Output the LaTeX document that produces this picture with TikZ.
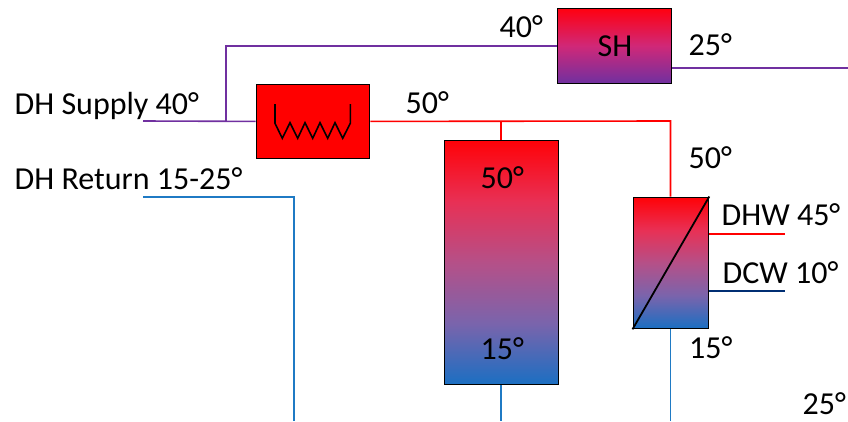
\documentclass[tikz,border=0pt]{standalone}
\usepackage{fontspec}
\setmainfont{Carlito}
\definecolor{pipepurple}{HTML}{7030A0}
\definecolor{pipered}{HTML}{FF0000}
\definecolor{pipeblue}{HTML}{1F7AC4}
\definecolor{pipenavy}{HTML}{002E73}
\definecolor{hcA}{HTML}{1B6FC2}
\definecolor{hcB}{HTML}{7A64AC}
\definecolor{hcC}{HTML}{B55088}
\definecolor{hcD}{HTML}{E83055}
\definecolor{hcE}{HTML}{FF0208}
\definecolor{shA}{HTML}{7030A0}
\definecolor{shB}{HTML}{D02878}
\definecolor{shC}{HTML}{FF0010}
\pgfdeclareverticalshading{hotcoldshade}{100bp}{
 color(0bp)=(hcA); color(25bp)=(hcA); color(37.5bp)=(hcB); color(50bp)=(hcC);
 color(62.5bp)=(hcD); color(75bp)=(hcE); color(100bp)=(hcE)}
\pgfdeclareverticalshading{heatingshade}{100bp}{
 color(0bp)=(shA); color(25bp)=(shA); color(50bp)=(shB); color(75bp)=(shC); color(100bp)=(shC)}
\tikzset{
 unit/.style={draw=black,line width=1.8pt,inner sep=0pt,anchor=north west},
 hotcold/.style={unit,shading=hotcoldshade},
 heating/.style={unit,shading=heatingshade},
 lbl/.style={anchor=base west,inner sep=0pt,font=\fontsize{32}{33}\selectfont},
 ctr/.style={anchor=base,inner sep=0pt,font=\fontsize{32}{33}\selectfont},
 pipe/.style={line width=1.6pt},
}
\begin{document}
\begin{tikzpicture}[x=1pt,y=-1pt]
\useasboundingbox (0,0) rectangle (848,421);
% pipe end points
\coordinate (supplyin) at (143,121);
\coordinate (branch) at (226,121);
\coordinate (branchtop) at (226,46);
\coordinate (shout) at (848,68);
\coordinate (retin) at (143,197);
\coordinate (retcorner) at (294,197);
\coordinate (retout) at (294,421);
\coordinate (redcorner) at (670.5,121);
\coordinate (tanktee) at (501,121);
\coordinate (tankout) at (501,421);
\coordinate (dhxout) at (670.5,421);
\coordinate (dhwend) at (785,234);
\coordinate (dcwend) at (785,291);
% units
\node[heating,minimum width=114pt,minimum height=75pt] (sh) at (556.5,7.5) {};
\node[unit,fill=pipered,minimum width=113pt,minimum height=74pt] (hx) at (255.5,83.5) {};
\node[hotcold,minimum width=114pt,minimum height=244pt] (tank) at (443.5,139.5) {};
\node[hotcold,minimum width=75pt,minimum height=131pt] (dhx) at (632.5,196.5) {};
% pipes
\draw[pipe,pipepurple] (supplyin) -- (hx.west);
\draw[pipe,pipepurple] (branch) -- (branchtop) -- (sh.west |- branchtop);
\draw[pipe,pipepurple] (sh.east |- shout) -- (shout);
\draw[pipe,pipered] (hx.east) -- (redcorner) -- (dhx.north -| redcorner);
\draw[pipe,pipered] (tanktee) -- (tank.north -| tanktee);
\draw[pipe,pipered] (dhx.east |- dhwend) -- (dhwend);
\draw[pipe,pipenavy] (dhx.east |- dcwend) -- (dcwend);
\draw[pipe,pipeblue] (retin) -- (retcorner) -- (retout);
\draw[pipe,pipeblue] (tank.south -| tankout) -- (tankout);
\draw[pipe,pipeblue] (dhx.south -| dhxout) -- (dhxout);
% symbols inside units
\draw[line width=1.8pt] (dhx.south west) -- (dhx.north east);
\draw[line width=1.6pt] (275,104) -- (275,123.3) -- (282.3,138.3) -- (290,122.7) -- (297.7,138.3) -- (305,122.7) -- (312.7,138.3) -- (320,122.7) -- (327.7,138.3) -- (335,122.7) -- (342.7,138.3) -- (350.3,123.3) -- (350.3,104);
% labels
\node[lbl] (l1) at (14.5,114) {DH Supply 40°};
\node[lbl] (l2) at (14.5,189) {DH Return 15-25°};
\node[lbl] (l3) at (405.5,113) {50°};
\node[lbl] (l4) at (499.5,37) {40°};
\node[ctr] (l5) at (615,56) {SH};
\node[lbl] (l6) at (688.5,55) {25°};
\node[lbl] (l7) at (480.5,188) {50°};
\node[lbl] (l8) at (480.5,359) {15°};
\node[lbl] (l9) at (688.5,168) {50°};
\node[lbl] (l10) at (721.5,225) {DHW 45°};
\node[lbl] (l11) at (722.5,283) {DCW 10°};
\node[lbl] (l12) at (689,358) {15°};
\node[lbl] (l13) at (802.5,414) {25°};
\end{tikzpicture}
\end{document}
